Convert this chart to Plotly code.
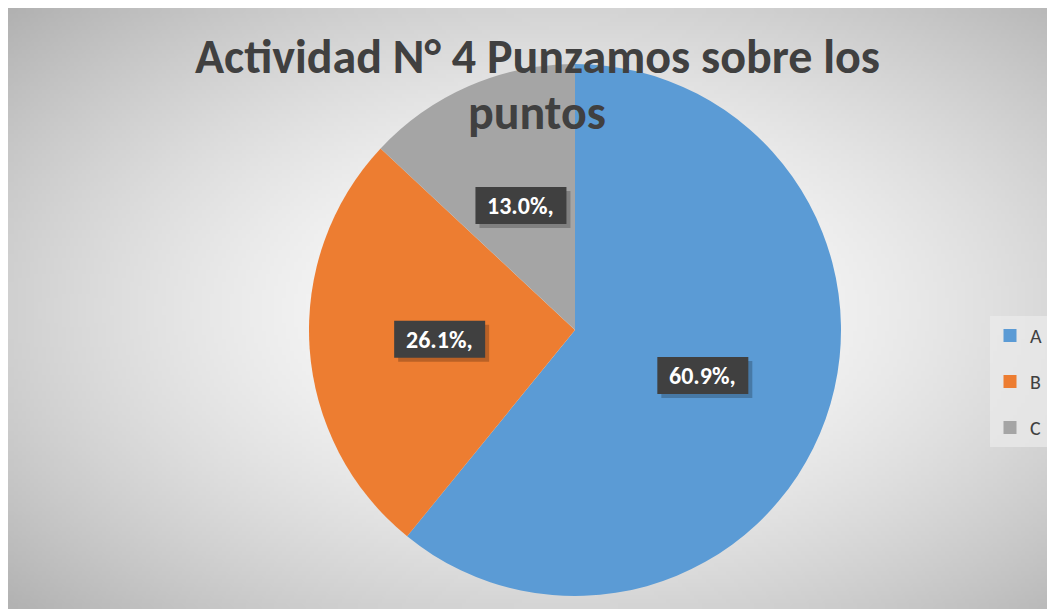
import base64, struct, zlib, math
import numpy as np
import plotly.graph_objects as go

labels = ["A", "B", "C"]
values = [14, 6, 3]
colors = ["#5B9BD5", "#ED7D31", "#A5A5A5"]
title_line1 = "Actividad N° 4 Punzamos sobre los"
title_line2 = "puntos"

# page body has an 8px margin; figure fills the rest of the 1055x609 window
OFF = 8
W, H = 1055 - OFF, 609 - OFF

def px(sx):
    return (sx - OFF) / W

def py(sy):
    return 1 - (sy - OFF) / H

# ---- radial gradient background as PNG ----
def make_png(arr):
    h, w = arr.shape
    raw = b"".join(b"\x00" + arr[i].astype(np.uint8).tobytes() for i in range(h))
    def chunk(t, d):
        c = struct.pack(">I", len(d)) + t + d
        return c + struct.pack(">I", zlib.crc32(t + d) & 0xffffffff)
    png = b"\x89PNG\r\n\x1a\n" + chunk(b"IHDR", struct.pack(">IIBBBBB", w, h, 8, 0, 0, 0, 0))
    png += chunk(b"IDAT", zlib.compress(raw, 9)) + chunk(b"IEND", b"")
    return "data:image/png;base64," + base64.b64encode(png).decode()

gw, gh = 262, 150
yy, xx = np.mgrid[0:gh, 0:gw]
cx, cy = 0.53 * gw, 0.50 * gh
d = np.sqrt(((xx - cx) / (0.62 * gw)) ** 2 + ((yy - cy) / (0.62 * gh)) ** 2)
g = 255 - 60 * np.clip(d, 0, 1.2) ** 1.6
bg = make_png(np.clip(g, 0, 255))

fig = go.Figure()

# pie geometry in screen pixels
pcx, pcy, pr = 575, 330, 266
dom_x = [px(pcx - pr), px(pcx + pr)]
dom_y = [py(pcy + pr), py(pcy - pr)]

fig.add_trace(go.Pie(
    labels=labels, values=values, sort=False, direction="clockwise", rotation=0,
    marker=dict(colors=colors, line=dict(width=0)),
    textinfo="none", hoverinfo="label+percent", showlegend=False,
    domain=dict(x=dom_x, y=dom_y),
))

# legend entries
for lab, col in zip(labels, colors):
    fig.add_trace(go.Scatter(
        x=[None], y=[None], mode="markers", name=lab, legendgroup=lab,
        marker=dict(symbol="square", size=13, color=col),
    ))

LBL_FONT = "Carlito, Lato, sans-serif"
BOX_W, BOX_H = 91, 37
shapes = []
total = sum(values)
cum = 0
for v in values:
    frac = v / total
    mid = (cum + frac / 2) * 2 * math.pi
    cum += frac
    lx = pcx + 0.51 * pr * math.sin(mid)
    ly = pcy - 0.51 * pr * math.cos(mid)
    # shadow
    shapes.append(dict(type="rect", xref="paper", yref="paper", layer="above",
                       x0=px(lx - BOX_W / 2 + 4), x1=px(lx + BOX_W / 2 + 4),
                       y0=py(ly + BOX_H / 2 + 4), y1=py(ly - BOX_H / 2 + 4),
                       fillcolor="rgba(0,0,0,0.22)", line=dict(width=0)))
    shapes.append(dict(type="rect", xref="paper", yref="paper", layer="above",
                       x0=px(lx - BOX_W / 2), x1=px(lx + BOX_W / 2),
                       y0=py(ly + BOX_H / 2), y1=py(ly - BOX_H / 2),
                       fillcolor="#404040", line=dict(width=0)))
    fig.add_annotation(x=px(lx), y=py(ly), xref="paper", yref="paper",
                       xanchor="center", yanchor="middle",
                       text=f"<b>{frac*100:.1f}%,</b>", showarrow=False,
                       font=dict(family=LBL_FONT, size=24, color="white"))

fig.add_annotation(x=px(537), y=py(56), xref="paper", yref="paper",
                   xanchor="center", yanchor="middle",
                   text=f"<b>{title_line1}</b>", showarrow=False,
                   font=dict(family=LBL_FONT, size=48, color="#404040"))
fig.add_annotation(x=px(537), y=py(112), xref="paper", yref="paper",
                   xanchor="center", yanchor="middle",
                   text=f"<b>{title_line2}</b>", showarrow=False,
                   font=dict(family=LBL_FONT, size=48, color="#404040"))

fig.update_layout(
    width=W, height=H,
    margin=dict(l=0, r=0, t=0, b=0),
    paper_bgcolor="#d0d0d0",
    plot_bgcolor="rgba(0,0,0,0)",
    xaxis=dict(visible=False), yaxis=dict(visible=False),
    images=[dict(source=bg, xref="paper", yref="paper", x=0, y=1,
                 sizex=1, sizey=1, sizing="stretch", layer="below",
                 xanchor="left", yanchor="top")],
    shapes=shapes,
    legend=dict(x=px(990), y=py(316), xanchor="left", yanchor="top",
                bgcolor="rgba(235,235,235,0.7)", tracegroupgap=17,
                font=dict(family=LBL_FONT, size=20, color="#404040"),
                itemwidth=30),
    showlegend=True,
)

fig.write_html("out.html")
